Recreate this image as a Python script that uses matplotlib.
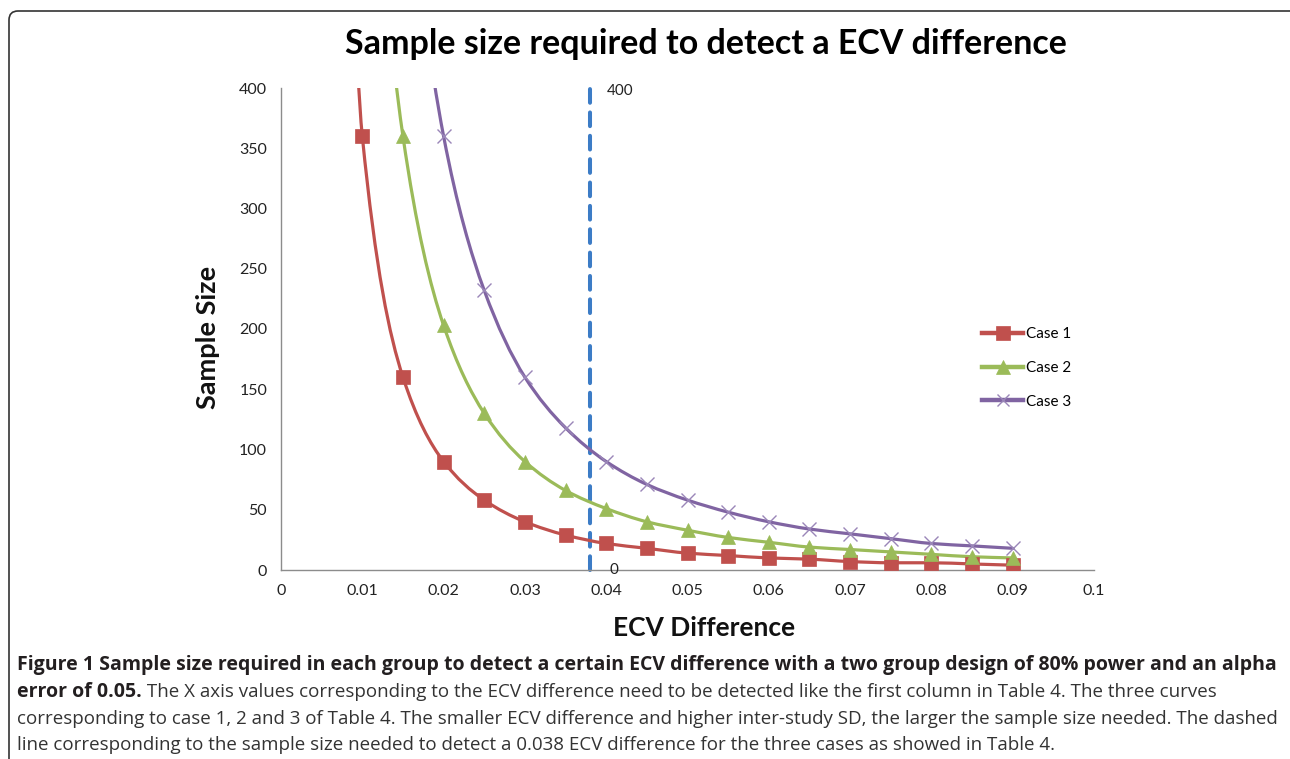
import numpy as np
import matplotlib
matplotlib.use("Agg")
import matplotlib.pyplot as plt
from matplotlib.path import Path
from matplotlib.patches import PathPatch, FancyBboxPatch
from matplotlib.transforms import IdentityTransform
from matplotlib.lines import Line2D

# ---------------- data ----------------
ecv_diff = [0.005, 0.01, 0.015, 0.02, 0.025, 0.03, 0.035, 0.04, 0.045,
            0.05, 0.055, 0.06, 0.065, 0.07, 0.075, 0.08, 0.085, 0.09]
case1 = [1440, 360, 160, 90, 58, 40, 29, 22, 18, 14, 12, 10, 9, 7, 6, 6, 5, 4]
case2 = [3240, 810, 360, 203, 130, 90, 66, 51, 40, 33, 27, 23, 19, 17, 15, 13, 11, 10]
case3 = [5760, 1440, 640, 360, 232, 160, 118, 90, 71, 58, 48, 40, 34, 30, 26, 22, 20, 18]
series_names = ["Case 1", "Case 2", "Case 3"]
ref_x = [0.038, 0.038]
ref_y = [0, 400]
x_ticks = [0, 0.01, 0.02, 0.03, 0.04, 0.05, 0.06, 0.07, 0.08, 0.09, 0.1]
x_tick_labels = ["0", "0.01", "0.02", "0.03", "0.04", "0.05", "0.06", "0.07", "0.08", "0.09", "0.1"]
y_ticks = [0, 50, 100, 150, 200, 250, 300, 350, 400]

title = "Sample size required to detect a ECV difference"
xlabel = "ECV Difference"
ylabel = "Sample Size"
cap1 = ("Figure 1 Sample size required in each group to detect a certain ECV difference "
        "with a two group design of 80% power and an alpha")
cap2b = "error of 0.05."
cap2r = (" The X axis values corresponding to the ECV difference need to be detected like "
         "the first column in Table 4. The three curves")
cap3 = ("corresponding to case 1, 2 and 3 of Table 4. The smaller ECV difference and higher "
        "inter-study SD, the larger the sample size needed. The dashed")
cap4 = ("line corresponding to the sample size needed to detect a 0.038 ECV difference for "
        "the three cases as showed in Table 4.")

W, H = 1290, 759
fig = plt.figure(figsize=(W / 100, H / 100), dpi=100)
fig.patch.set_facecolor("white")

CHART_FONT = ["Lato", "DejaVu Sans"]
CAP_FONT = ["Liberation Sans Narrow", "Open Sans", "DejaVu Sans"]

ax = fig.add_axes([281 / W, 1 - 570 / H, (1094 - 281) / W, (570 - 88) / H])
ax.set_xlim(0, 0.1)
ax.set_ylim(0, 400)


def smooth_path(xs, ys):
    """Monotone cubic (Fritsch-Carlson) Bezier path through the points."""
    xs = np.asarray(xs, float)
    ys = np.asarray(ys, float)
    h = np.diff(xs)
    s = np.diff(ys) / h
    n = len(xs)
    d = np.zeros(n)
    d[0] = s[0]
    d[-1] = s[-1]
    for i in range(1, n - 1):
        if s[i - 1] * s[i] <= 0:
            d[i] = 0
        else:
            w1 = 2 * h[i] + h[i - 1]
            w2 = h[i] + 2 * h[i - 1]
            d[i] = (w1 + w2) / (w1 / s[i - 1] + w2 / s[i])
    verts = [(xs[0], ys[0])]
    codes = [Path.MOVETO]
    for i in range(n - 1):
        verts += [(xs[i] + h[i] / 3, ys[i] + d[i] * h[i] / 3),
                  (xs[i + 1] - h[i] / 3, ys[i + 1] - d[i + 1] * h[i] / 3),
                  (xs[i + 1], ys[i + 1])]
        codes += [Path.CURVE4] * 3
    return Path(verts, codes)


styles = [
    dict(color="#C0504D", marker="s", ms=10.5, mew=0.5),
    dict(color="#9BBB59", marker="^", ms=10.5, mew=0.5),
    dict(color="#8064A2", marker="x", ms=10, mew=1.0),
]
handles = []
for ys, name, st in zip([case1, case2, case3], series_names, styles):
    p = PathPatch(smooth_path(ecv_diff, ys), facecolor="none", edgecolor=st["color"],
                  lw=2.3, zorder=3, capstyle="round")
    ax.add_patch(p)
    mcol = st["color"] if st["marker"] != "x" else "#9A86B8"
    ax.plot(ecv_diff, ys, ls="none", marker=st["marker"], ms=st["ms"],
            mfc=mcol, mec=mcol, mew=st["mew"], zorder=4)
    handles.append(Line2D([0], [0], color=st["color"], lw=3.2, marker=st["marker"],
                          ms=st["ms"] * 0.9, mfc=mcol, mec=mcol, mew=st["mew"], label=name))

# dashed reference line
ax.plot(ref_x, ref_y, color="#3C7CC6", lw=2.9, dashes=(3.4, 2.4), zorder=2,
        dash_capstyle="round", clip_on=False)
ax.annotate(str(ref_y[1]), (ref_x[1], ref_y[1]), xytext=(12, -2), textcoords="offset points",
            ha="left", va="center", fontsize=11, family=CHART_FONT, color="#222222")
ax.annotate(str(ref_y[0]), (ref_x[0], ref_y[0]), xytext=(17, 0), textcoords="offset points",
            ha="center", va="center", fontsize=11, family=CHART_FONT, color="#222222")

for side in ["top", "right"]:
    ax.spines[side].set_visible(False)
for side in ["left", "bottom"]:
    ax.spines[side].set_color("#8c8c8c")
    ax.spines[side].set_linewidth(1.0)
ax.set_xticks(x_ticks)
ax.set_xticklabels(x_tick_labels)
ax.set_yticks(y_ticks)
ax.tick_params(length=0, labelsize=11.5, colors="#222222")
ax.tick_params(axis="y", pad=10)
ax.tick_params(axis="x", pad=10)
for lab in ax.get_xticklabels() + ax.get_yticklabels():
    lab.set_family(CHART_FONT)

fig.text(704 / W, 1 - 628 / H, xlabel, ha="center", va="center", fontsize=19,
         fontweight="bold", family=CHART_FONT, color="#111111")
fig.text(208 / W, 1 - 337 / H, ylabel, ha="center", va="center", rotation=90,
         fontsize=19.5, fontweight="bold", family=CHART_FONT, color="#111111")

leg = fig.legend(handles=handles, loc="upper left", bbox_to_anchor=(982 / W, 1 - 327 / H),
                 frameon=False, handlelength=2.7, handletextpad=0.15,
                 labelspacing=1.3, borderpad=0, borderaxespad=0,
                 prop=dict(family=CHART_FONT, size=11))

# border (right side runs off the page edge, as in the reference)
box = FancyBboxPatch((9, -30), 1292, H - 11 + 30, boxstyle="round,pad=0,rounding_size=9",
                     transform=IdentityTransform(), facecolor="none", edgecolor="#333333",
                     lw=1.2, zorder=10)
fig.patches.append(box)

renderer = fig.canvas.get_renderer()


def fit_text(x, y, s, target_w, weight, color, family, base=10):
    t = fig.text(x / W, 1 - y / H, s, ha="left", va="center", fontsize=base,
                 fontweight=weight, family=family, color=color)
    w = t.get_window_extent(renderer).width
    t.set_fontsize(base * target_w / w)
    return t


ttl = fit_text(345, 44, title, 723, "bold", "#000000", CHART_FONT, base=20)

t1 = fit_text(17, 665, cap1, 1257, "bold", "#231f20", CAP_FONT)
t3 = fit_text(17, 719, cap3, 1259, "normal", "#333333", CAP_FONT)
rs = t3.get_fontsize()
bs = t1.get_fontsize()
t2b = fig.text(17 / W, 1 - 692 / H, cap2b, ha="left", va="center", fontsize=bs,
               fontweight="bold", family=CAP_FONT, color="#231f20")
ext = t2b.get_window_extent(renderer)
fig.text((ext.x1) / W, 1 - 692 / H, cap2r, ha="left", va="center", fontsize=rs,
         family=CAP_FONT, color="#333333")
fig.text(17 / W, 1 - 745 / H, cap4, ha="left", va="center", fontsize=rs,
         family=CAP_FONT, color="#333333")

fig.savefig("out.png", dpi=100)
